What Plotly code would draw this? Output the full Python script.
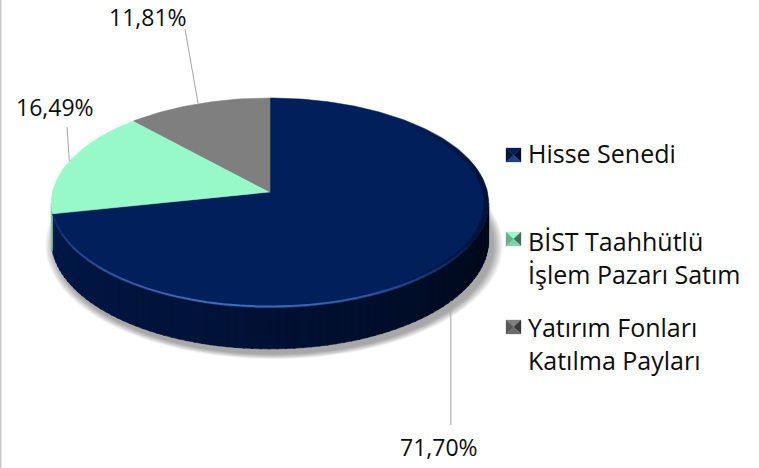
import numpy as np
import plotly.graph_objects as go

# ---- data ----
categories = ["Hisse Senedi", "BİST Taahhütlü<br>İşlem Pazarı Satım", "Yatırım Fonları<br>Katılma Payları"]
values = [71.70, 16.49, 11.81]
value_labels = ["71,70%", "16,49%", "11,81%"]
colors = ["#001F5B", "#97F8C8", "#7F7F7F"]

# ---- layout geometry (pixel space, perspective pie) ----
W, H = 759, 468
VX, VY = 270.0, 192.0      # projected pie centre
SR, C, KR = 217.5, 103.9, 0.105   # horizontal radius, vertical radius, perspective
D = 36.5                   # wall height
FONT = "Open Sans"
FS_LBL = 23
FS_LEG = 25

label_pos = [(439, 447), (55, 107), (148, 17)]
label_line_end = [(None, 425), (67, 127), (185, 29)]
legend_x_marker = 506
legend_x_text = 526
legend_marker_y = [155, 239, 327]
legend_text_y = [153, 257, 343]


def hex2rgb(h):
    h = h.lstrip("#")
    return tuple(int(h[i:i + 2], 16) for i in (0, 2, 4))


def shade(h, f, alpha=1.0):
    r, g, b = hex2rgb(h)
    return f"rgba({int(min(255, r * f))},{int(min(255, g * f))},{int(min(255, b * f))},{alpha})"


def proj(theta_deg, drop=0.0, grow=0.0, dx=0.0, dy=0.0):
    t = np.radians(theta_deg)
    den = 1 + KR * np.cos(t)
    x = VX + dx + (SR + grow) * np.sin(t) / den
    y = VY + dy + (-(C + grow * C / SR) * np.cos(t) + drop) / den
    return x, y


total = sum(values)
angles = np.cumsum([0] + [v / total * 360 for v in values])
TH_R = np.degrees(np.arccos(-KR))          # right silhouette
TH_L = 360 - TH_R                           # left silhouette

fig = go.Figure()

# ---- soft shadow ----
tt_all = np.linspace(0, 360, 181)
for k in range(9, 0, -1):
    xs, ys = proj(tt_all, drop=D, grow=k * 1.1, dx=4, dy=5)
    fig.add_trace(go.Scatter(x=xs, y=ys, fill="toself", mode="lines",
                             line=dict(width=0), fillcolor="rgba(0,0,0,0.045)",
                             hoverinfo="skip"))


def slice_of(theta):
    for i in range(len(values)):
        if angles[i] <= theta < angles[i + 1]:
            return i
    return len(values) - 1


# ---- side wall (visible front half) ----
step = 2.0
th = TH_R
while th < TH_L - 1e-9:
    t0, t1 = th, min(th + step, TH_L)
    for b_ in angles:
        if t0 < b_ < t1:
            t1 = b_
    i = slice_of((t0 + t1) / 2)
    frac = ((t0 + t1) / 2 - TH_R) / (TH_L - TH_R)
    f = 0.22 + 0.6 * frac ** 0.8
    col = shade(colors[i], f)
    tt = np.linspace(t0, min(t1 + 0.4, TH_L), 4)
    xt, yt = proj(tt)
    xb, yb = proj(tt[::-1], drop=D)
    fig.add_trace(go.Scatter(x=np.r_[xt, xb, xt[0]], y=np.r_[yt, yb, yt[0]],
                             fill="toself", mode="lines",
                             line=dict(width=0.6, color=col), fillcolor=col,
                             hoverinfo="skip"))
    th = t1

# ---- top face slices ----
for i in range(len(values)):
    tt = np.linspace(angles[i], angles[i + 1], max(3, int(angles[i + 1] - angles[i])))
    xs, ys = proj(tt)
    fig.add_trace(go.Scatter(x=np.r_[VX, xs, VX], y=np.r_[VY, ys, VY],
                             fill="toself", mode="lines",
                             line=dict(width=0.5, color=colors[i]), fillcolor=colors[i],
                             hoverinfo="skip"))

# ---- rim darkening on the right & bevel highlight on the front ----
for t0 in np.arange(40, 150, 5):
    tt = np.linspace(t0, t0 + 5, 4)
    xs, ys = proj(tt, grow=-2.5)
    a = 0.45 * np.sin(np.radians((t0 + 2.5 - 40) / 110 * 180))
    fig.add_trace(go.Scatter(x=xs, y=ys, mode="lines",
                             line=dict(width=5, color=f"rgba(0,5,20,{a:.3f})"),
                             hoverinfo="skip"))
for t0 in np.arange(115, 262, 4):
    i = slice_of(t0 + 2)
    if i != 0:
        continue
    tt = np.linspace(t0, t0 + 4, 4)
    xs, ys = proj(tt, dy=-1.5)
    a = 0.8 * np.sin(np.radians((t0 + 2 - 115) / 150 * 180)) ** 1.3
    fig.add_trace(go.Scatter(x=xs, y=ys, mode="lines",
                             line=dict(width=2, color=f"rgba(85,125,205,{a:.3f})"),
                             hoverinfo="skip"))

shapes = []
annotations = []

# ---- leader lines & value labels ----
for i in range(len(values)):
    mid = (angles[i] + angles[i + 1]) / 2
    front = TH_R < mid < TH_L
    sx, sy = proj(mid, drop=D if front else 0)
    ex, ey = label_line_end[i]
    if ex is None:
        ex = float(sx)
    shapes.append(dict(type="line", xref="x", yref="y", x0=float(sx), y0=float(sy),
                       x1=ex, y1=ey, line=dict(color="#A6A6A6", width=1)))
    lx, ly = label_pos[i]
    annotations.append(dict(x=lx, y=ly, xref="x", yref="y", text=value_labels[i],
                            showarrow=False, xanchor="center", yanchor="middle",
                            font=dict(family=FONT, size=FS_LBL, color="#0D0D0D")))

# ---- legend ----
MS = 14
for i in range(len(values)):
    x0 = legend_x_marker
    x1 = x0 + MS + 1
    yc = legend_marker_y[i]
    y0, y1 = yc - MS / 2, yc + MS / 2
    xm = (x0 + x1) / 2
    tris = [
        ([(x0, y0), (x1, y0), (xm, yc)], 1.0),
        ([(x1, y0), (x1, y1), (xm, yc)], 0.45),
        ([(x0, y1), (x1, y1), (xm, yc)], 0.85),
        ([(x0, y0), (x0, y1), (xm, yc)], 0.7),
    ]
    for pts, f in tris:
        if i == 0 and f == 0.85:
            col = "rgba(30,65,135,1)"
        else:
            col = shade(colors[i], f)
        path = "M " + " L ".join(f"{px},{py}" for px, py in pts) + " Z"
        shapes.append(dict(type="path", xref="x", yref="y", path=path,
                           fillcolor=col, line=dict(width=0.3, color=col)))
    annotations.append(dict(x=legend_x_text, y=legend_text_y[i], xref="x", yref="y",
                            text=categories[i], showarrow=False, align="left",
                            xanchor="left", yanchor="middle",
                            font=dict(family=FONT, size=FS_LEG, color="#0D0D0D")))

# left border of chart area
shapes.append(dict(type="line", xref="x", yref="y", x0=0.75, y0=0, x1=0.75, y1=H,
                   line=dict(color="#C8C8C8", width=1.5)))

fig.update_layout(
    width=W, height=H, autosize=False,
    margin=dict(l=0, r=0, t=0, b=0, pad=0),
    paper_bgcolor="white", plot_bgcolor="white",
    showlegend=False,
    xaxis=dict(range=[0, W], visible=False, fixedrange=True),
    yaxis=dict(range=[H, 0], visible=False, fixedrange=True),
    shapes=shapes, annotations=annotations,
)

fig.write_html("out.html", config={"displayModeBar": False},
               post_script="document.body.style.margin='0px';document.body.style.padding='0px';")
